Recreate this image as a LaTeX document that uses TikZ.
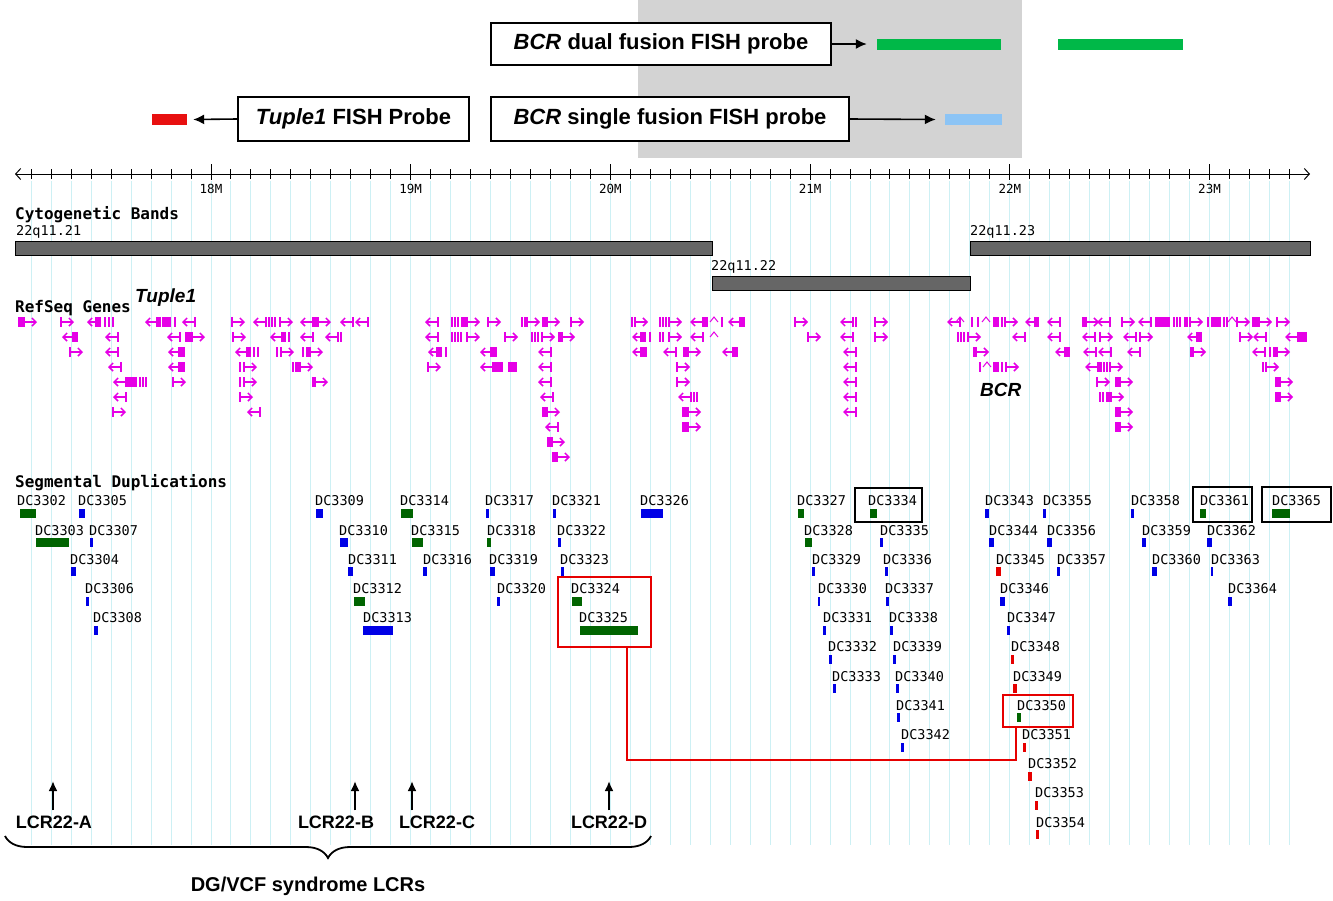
\documentclass[tikz,border=0pt]{standalone}
\usepackage{fontspec}
\setmainfont{Liberation Sans}
\setmonofont{DejaVu Sans Mono}
\usepackage{tikz}
\usetikzlibrary{arrows.meta}
\usetikzlibrary{positioning}
\usetikzlibrary{decorations.pathreplacing}
\definecolor{probegreen}{RGB}{0,184,72}
\definecolor{probeblue}{RGB}{140,196,245}
\definecolor{probered}{RGB}{232,16,16}
\definecolor{genemag}{RGB}{230,0,230}
\definecolor{dupgreen}{RGB}{0,100,0}
\definecolor{dupblue}{RGB}{0,0,230}
\definecolor{dupred}{RGB}{230,0,0}
\definecolor{bandgray}{RGB}{102,102,102}
\definecolor{gridcyan}{RGB}{205,240,244}
\definecolor{shadegray}{RGB}{211,211,211}
\tikzset{
    probebox/.style = {draw=black, line width=1.8pt, fill=white, inner sep=0pt, font=\bfseries\fontsize{22}{24}\selectfont},
    probebar/.style = {inner sep=0pt, minimum height=11pt},
    probearrow/.style = {-{Latex[length=11pt,width=10pt]}, line width=1.6pt},
    axisline/.style = {line width=1pt, {Straight Barb[length=5pt,width=11pt]}-{Straight Barb[length=5pt,width=11pt]}},
    ticklabel/.style = {font=\ttfamily\fontsize{12.5}{14}\selectfont, inner sep=0pt},
    gridline/.style = {draw=gridcyan, line width=1pt},
    tracklabel/.style = {font=\ttfamily\bfseries\fontsize{16}{18}\selectfont, anchor=west, inner sep=0pt},
    bandlabel/.style = {font=\ttfamily\fontsize{13.5}{15}\selectfont, anchor=south west, inner sep=0pt},
    band/.style = {draw=black, fill=bandgray, line width=1pt},
    genename/.style = {font=\bfseries\itshape\fontsize{19}{21}\selectfont, anchor=west, inner sep=0pt},
    gene/.style = {draw=genemag, line width=1.5pt},
    duplabel/.style = {font=\ttfamily\fontsize{13.5}{15}\selectfont, anchor=west, inner sep=0pt},
    selbox/.style = {draw=black, line width=2.5pt, inner sep=0pt},
    hitbox/.style = {draw=dupred, line width=2.8pt, inner sep=0pt},
    hitline/.style = {draw=dupred, line width=2.8pt},
    lcrlabel/.style = {font=\bfseries\fontsize{18}{20}\selectfont, inner sep=0pt},
    lcrarrow/.style = {-{Latex[length=10pt,width=9pt]}, line width=2.2pt},
}
\newcommand\geneR[2]{%
  \draw[gene] (#1,{302+15*#2}) -- (#1,{312+15*#2});
  \draw[gene,-{Straight Barb[length=4pt,width=8pt]}] (#1,{307+15*#2}) -- ++(13,0);}
\newcommand\geneL[2]{%
  \draw[gene] ({#1+13},{302+15*#2}) -- ({#1+13},{312+15*#2});
  \draw[gene,-{Straight Barb[length=4pt,width=8pt]}] ({#1+13},{307+15*#2}) -- ++(-13,0);}
\newcommand\geneX[3]{\fill[genemag] (#1,{302+15*#3}) rectangle ++(#2,10);}
\newcommand\geneI[2]{\draw[gene] (#1,{302+15*#2}) -- ++(0,10);}
\newcommand\geneW[2]{\draw[gene,line width=1pt] (#1,{307+15*#2}) -- ++(4,-5) -- ++(4,5);}
\newcommand\dupseg[6]{%
  \node[duplabel] (#1) at (#2,{501+29.2*#3}) {#1};
  \fill[#6] (#4,{509+29.2*#3}) rectangle ++(#5,9);}
\begin{document}
\begin{tikzpicture}[x=1pt, y=-1pt]
\useasboundingbox (0,0) rectangle (1333,900);
\fill[white] (0,0) rectangle (1333,900);
\fill[shadegray] (638,0) rectangle (1022,158);
\foreach \k in {-9,...,54}
  \draw[gridline] ({211+19.97*\k},181) -- ({211+19.97*\k},845);

% probes
\node[probebox, minimum width=340pt, minimum height=42pt] (dualbox) at (661,44) {\textit{BCR} dual fusion FISH probe};
\node[probebox, minimum width=231pt, minimum height=44pt] (tuplebox) at (353.5,119) {\textit{Tuple1} FISH Probe};
\node[probebox, minimum width=358pt, minimum height=44pt] (singlebox) at (670,119) {\textit{BCR} single fusion FISH probe};
\node[probebar, fill=probegreen, minimum width=124pt] (dualA) at (939,44) {};
\node[probebar, fill=probegreen, minimum width=125pt] (dualB) at (1120.5,44) {};
\node[probebar, fill=probeblue, minimum width=57pt] (singlebar) at (973.5,119.5) {};
\node[probebar, fill=probered, minimum width=35pt] (tuplebar) at (169.5,119.5) {};
\draw[probearrow] (dualbox.east) -- ([xshift=-10pt]dualA.west);
\draw[probearrow] (singlebox.east) -- ([xshift=-9pt]singlebar.west);
\draw[probearrow] (tuplebox.west) -- ([xshift=6pt]tuplebar.east);

% axis
\draw[axisline] (15,174) -- (1310,174);
\foreach \k in {-9,...,54}
  \draw[line width=1pt] ({211+19.97*\k},169) -- ++(0,10);
\foreach \m [count=\i from 0] in {18,...,23} {
  \draw[line width=1pt] ({211+199.7*\i},164) -- ++(0,16);
  \node[ticklabel] at ({211+199.7*\i},189) {\m M};
}

% cytogenetic bands
\node[tracklabel] (cytolabel) at (15,215) {Cytogenetic Bands};
\draw[band] (15,241) rectangle (712,255);
\draw[band] (712,276) rectangle (970,290);
\draw[band] (970,241) rectangle (1310,255);
\node[bandlabel] (q21) at (16,239) {22q11.21};
\node[bandlabel] (q22) at (711,274) {22q11.22};
\node[bandlabel] (q23) at (970,239) {22q11.23};

% refseq genes
\node[tracklabel] (genelabel) at (15,308) {RefSeq Genes};
\node[genename] (tuple1) at (135,298) {Tuple1};
\node[genename] (bcr) at (980,390) {BCR};
\foreach \r/\xs in {1/{24,61,232,280,318,467,488,527,547,571,635,669,795,875,1005,1086,1122,1190,1237,1259,1277},
                    2/{192,233,467,505,542,562,669,808,875,968,1100,1140,1240},
                    3/{70,281,310,688,976,1193,1277},
                    4/{244,300,428,677,1006,1110,1266},
                    5/{173,244,315,677,1097,1120,1280},
                    6/{240,1111,1280},
                    7/{113,547,688,1120},
                    8/{688,1120}, 9/{552}, 10/{557}}
  {\foreach \x in \xs {\geneR{\x}{\r}}}
\foreach \r/\xs in {1/{87,145,182,253,300,340,355,425,690,728,840,947,1025,1047,1097,1138},
                    2/{62,105,167,270,300,325,425,632,690,840,1012,1047,1082,1123,1187,1253,1285},
                    3/{105,168,235,428,480,538,632,663,722,843,1055,1083,1098,1127,1252},
                    4/{108,168,480,538,843,1085},
                    5/{113,538,843},
                    6/{113,540,678,843},
                    7/{247,843}, 8/{545}}
  {\foreach \x in \xs {\geneL{\x}{\r}}}
\foreach \r/\xs in {1/{18/6,95/6,162/9,313/5,461/6,542/5,703/5,739/6,993/6,1034/4,1082/4,1155/15,1184/4,1211/10,1252/7},
                    2/{72/6,185/8,281/5,558/4,640/6,1196/6,1297/10},
                    3/{178/7,246/5,306/5,436/6,490/7,640/7,683/5,732/6,973/4,1064/6,1190/4,1273/4},
                    4/{178/7,295/5,492/11,508/9,993/6,1098/4},
                    5/{125/12,312/4,1115/5,1275/5},
                    6/{1106/5,1275/5},
                    7/{542/5,682/7,1115/5},
                    8/{682/7,1115/5}, 9/{547/5}, 10/{552/5}}
  {\foreach \x/\w in \xs {\geneX{\x}{\w}{\r}}}
\foreach \r/\xs in {1/{105,109,113,157,160,175,266,269,272,275,452,455,458,522,525,632,660,663,666,722,853,856,972,978,1002,1151,1174,1177,1180,1208,1224,1227},
                    2/{289,341,452,455,458,461,532,535,538,650,660,663,958,961,964},
                    3/{254,258,277,303,446,1270},
                    4/{240,293,980,1002,1104,1107,1263},
                    5/{140,143,146,240},
                    6/{694,697,1100,1103}}
  {\foreach \x in \xs {\geneI{\x}{\r}}}
\foreach \x/\r in {710/1,956/1,982/1,1228/1,710/2,983/4}
  \geneW{\x}{\r};

% segmental duplications
\node[tracklabel] (duplabel) at (15,483) {Segmental Duplications};
\foreach \n/\lx/\r/\bx/\bw/\c in {
    DC3302/17/0/20/16/dupgreen, DC3305/78/0/79/6/dupblue, DC3303/35/1/36/33/dupgreen,
    DC3307/89/1/90/3/dupblue, DC3304/70/2/71/5/dupblue, DC3306/85/3/86/3/dupblue,
    DC3308/93/4/94/4/dupblue, DC3309/315/0/316/7/dupblue, DC3314/400/0/401/12/dupgreen,
    DC3310/339/1/340/8/dupblue, DC3315/411/1/412/11/dupgreen, DC3311/348/2/348/5/dupblue,
    DC3316/423/2/423/4/dupblue, DC3312/353/3/354/11/dupgreen, DC3313/363/4/363/30/dupblue,
    DC3317/485/0/486/3/dupblue, DC3321/552/0/553/3/dupblue, DC3326/640/0/641/22/dupblue,
    DC3318/487/1/487/4/dupgreen, DC3322/557/1/558/3/dupblue, DC3319/489/2/490/5/dupblue,
    DC3323/560/2/561/3/dupblue, DC3320/497/3/497/3/dupblue, DC3324/571/3/572/10/dupgreen,
    DC3325/579/4/580/58/dupgreen, DC3327/797/0/798/6/dupgreen, DC3334/868/0/870/7/dupgreen,
    DC3328/804/1/805/7/dupgreen, DC3335/880/1/880/3/dupblue, DC3329/812/2/812/3/dupblue,
    DC3336/883/2/885/3/dupblue, DC3330/818/3/818/2/dupblue, DC3337/885/3/886/3/dupblue,
    DC3331/823/4/823/3/dupblue, DC3338/889/4/890/3/dupblue, DC3332/828/5/829/3/dupblue,
    DC3339/893/5/893/3/dupblue, DC3333/832/6/833/3/dupblue, DC3340/895/6/896/3/dupblue,
    DC3341/896/7/897/3/dupblue, DC3342/901/8/901/3/dupblue, DC3343/985/0/985/4/dupblue,
    DC3355/1043/0/1043/3/dupblue, DC3344/989/1/989/5/dupblue, DC3356/1047/1/1047/5/dupblue,
    DC3345/996/2/996/5/dupred, DC3357/1057/2/1057/3/dupblue, DC3346/1000/3/1000/5/dupblue,
    DC3347/1007/4/1007/3/dupblue, DC3348/1011/5/1011/3/dupred, DC3349/1013/6/1013/4/dupred,
    DC3350/1017/7/1017/4/dupgreen, DC3351/1022/8/1023/3/dupred, DC3352/1028/9/1028/4/dupred,
    DC3353/1035/10/1035/3/dupred, DC3354/1036/11/1036/3/dupred, DC3358/1131/0/1131/3/dupblue,
    DC3361/1200/0/1200/6/dupgreen, DC3365/1272/0/1272/18/dupgreen, DC3359/1142/1/1142/4/dupblue,
    DC3362/1207/1/1207/5/dupblue, DC3360/1152/2/1152/5/dupblue, DC3363/1211/2/1211/2/dupblue,
    DC3364/1228/3/1228/4/dupblue}
  {\dupseg{\n}{\lx}{\r}{\bx}{\bw}{\c}}
\node[selbox, minimum width=67pt, minimum height=34pt] (sel34) at (888.5,505) {};
\node[selbox, minimum width=59pt, minimum height=35pt] (sel61) at (1222.5,504.5) {};
\node[selbox, minimum width=69pt, minimum height=35pt] (sel65) at (1296.5,504.5) {};
\node[hitbox, minimum width=93pt, minimum height=70pt] (hitD) at (604.5,612) {};
\node[hitbox, minimum width=70pt, minimum height=32pt] (hit50) at (1038,711) {};
\coordinate (bend) at (1016,760);
\draw[hitline] ([xshift=22.5pt]hitD.south) |- (bend) -- (bend |- hit50.south);

% LCRs
\node[lcrlabel] (lcrA) at (54,822) {LCR22-A};
\node[lcrlabel] (lcrB) at (336,822) {LCR22-B};
\node[lcrlabel] (lcrC) at (437,822) {LCR22-C};
\node[lcrlabel] (lcrD) at (609,822) {LCR22-D};
\coordinate (tipA) at (53,781);
\coordinate (tipB) at (355,781);
\coordinate (tipC) at (412,781);
\coordinate (tipD) at (609,781);
\foreach \l in {A,B,C,D}
  \draw[lcrarrow] ([yshift=5pt]tip\l |- lcr\l.north) -- (tip\l);
\draw[decorate, decoration={brace, mirror, amplitude=22pt}, line width=1.8pt] (5,836) -- (651,836);
\node[font=\bfseries\fontsize{20}{22}\selectfont] (lcrall) at (308,886) {DG/VCF syndrome LCRs};
\end{tikzpicture}
\end{document}
